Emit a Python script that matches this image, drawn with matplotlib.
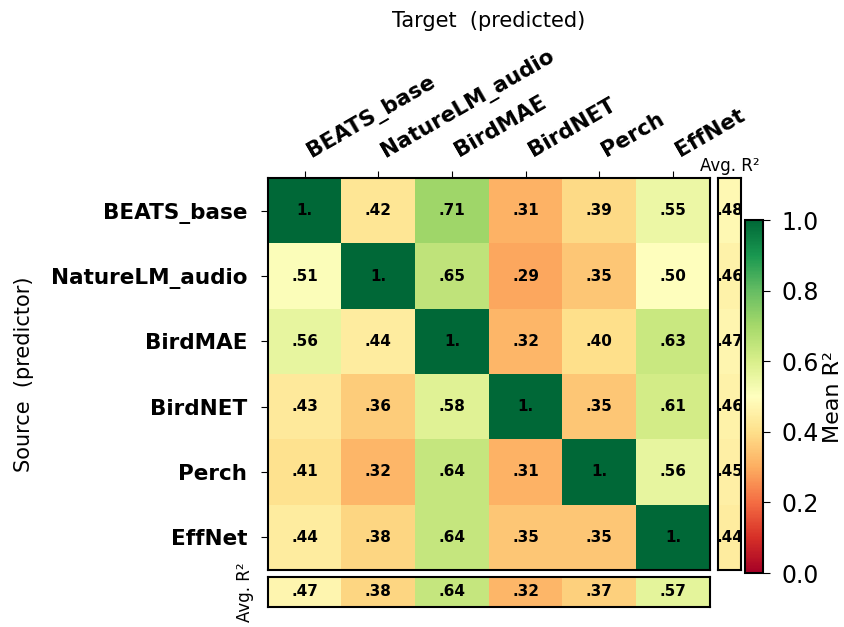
import numpy as np
import matplotlib
matplotlib.use('Agg')
import matplotlib.pyplot as plt
from matplotlib.transforms import offset_copy

models = ['BEATS_base', 'NatureLM_audio', 'BirdMAE', 'BirdNET', 'Perch', 'EffNet']

# rows = source (predictor), cols = target (predicted)
r2 = np.array([
    [1.00, 0.42, 0.71, 0.31, 0.39, 0.55],
    [0.51, 1.00, 0.65, 0.29, 0.35, 0.50],
    [0.56, 0.44, 1.00, 0.32, 0.40, 0.63],
    [0.43, 0.36, 0.58, 1.00, 0.35, 0.61],
    [0.41, 0.32, 0.64, 0.31, 1.00, 0.56],
    [0.44, 0.38, 0.64, 0.35, 0.35, 1.00],
])
row_avg = np.array([0.48, 0.46, 0.47, 0.46, 0.45, 0.44])
col_avg = np.array([0.47, 0.38, 0.64, 0.32, 0.37, 0.57])


def fmt(v):
    if v >= 0.995:
        return '1.'
    return f'{v:.2f}'[1:]


cmap = plt.get_cmap('RdYlGn')
fig = plt.figure(figsize=(8.45, 6.27), dpi=100)

ax = fig.add_axes([0.317, 0.091, 0.523, 0.625])
ax_r = fig.add_axes([0.850, 0.091, 0.027, 0.625])
ax_b = fig.add_axes([0.317, 0.032, 0.523, 0.048])
cax = fig.add_axes([0.882, 0.086, 0.021, 0.563])

im = ax.imshow(r2, cmap=cmap, vmin=0, vmax=1, aspect='auto')
for i in range(6):
    for j in range(6):
        ax.text(j, i, fmt(r2[i, j]), ha='center', va='center',
                fontsize=11, fontweight='bold')
ax.set_xticks(range(6))
ax.set_yticks(range(6))
ax.xaxis.tick_top()
ax.set_xticklabels([''] * 6)
# rotated column labels, drawn by hand so they sit just right of each tick
lab_tr = offset_copy(ax.get_xaxis_transform(), fig=fig, x=5, y=15, units='points')
for j, name in enumerate(models):
    ax.text(j, 1.0, name, transform=lab_tr, rotation=30, ha='left', va='baseline',
            rotation_mode='anchor', fontsize=15.5, fontweight='bold')
ax.text(0.5, 1.0, 'Target  (predicted)', fontsize=15, ha='center', va='center',
        transform=offset_copy(ax.transAxes, fig=fig, x=0, y=113, units='points'))
ax.set_yticklabels(models, fontsize=15.5, fontweight='bold')
ax.tick_params(axis='x', length=5)
ax.tick_params(axis='y', length=5, pad=10)
ax.set_ylabel('Source  (predictor)', fontsize=15, labelpad=12)
for s in ax.spines.values():
    s.set_linewidth(1.5)

ax_r.imshow(row_avg[:, None], cmap=cmap, vmin=0, vmax=1, aspect='auto')
for i, v in enumerate(row_avg):
    ax_r.text(0, i, fmt(v), ha='center', va='center', fontsize=11,
              fontweight='bold', clip_on=True)
ax_r.set_xticks([])
ax_r.set_yticks([])
ax_r.set_title('Avg. R²', fontsize=12, pad=5)
for s in ax_r.spines.values():
    s.set_linewidth(1.5)

ax_b.imshow(col_avg[None, :], cmap=cmap, vmin=0, vmax=1, aspect='auto')
for j, v in enumerate(col_avg):
    ax_b.text(j, 0, fmt(v), ha='center', va='center', fontsize=11,
              fontweight='bold')
ax_b.set_xticks([])
ax_b.set_yticks([])
ax_b.set_ylabel('Avg. R²', fontsize=12, labelpad=10)
for s in ax_b.spines.values():
    s.set_linewidth(1.5)

cb = fig.colorbar(im, cax=cax)
cb.set_ticks([0, 0.2, 0.4, 0.6, 0.8, 1.0])
cb.ax.tick_params(labelsize=17, length=5, pad=8)
cb.set_label('Mean R²', fontsize=16, labelpad=3)
cb.outline.set_linewidth(1.5)

fig.savefig('out.png', dpi=100)
